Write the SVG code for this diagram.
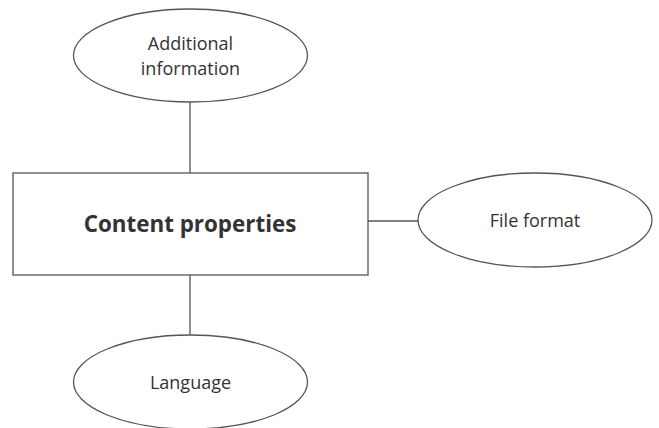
<svg xmlns="http://www.w3.org/2000/svg" width="659" height="428" viewBox="0 0 659 428">
  <style>
    .shape { fill: #ffffff; stroke: #555555; stroke-width: 1.3; }
    .link { stroke: #555555; stroke-width: 1.3; fill: none; }
    .label { font-family: "Open Sans", "Liberation Sans", sans-serif; fill: #333333; text-anchor: middle; }
    .small { font-size: 18px; }
    .big { font-size: 22.4px; font-weight: bold; }
  </style>
  <rect width="659" height="428" fill="#ffffff"/>
  <g id="connectors">
    <line class="link" x1="190" y1="102" x2="190" y2="173"/>
    <line class="link" x1="368" y1="221" x2="418" y2="221"/>
    <line class="link" x1="190" y1="275" x2="190" y2="335"/>
  </g>
  <g id="content-properties">
    <rect class="shape" x="13" y="173" width="355" height="102"/>
    <text class="label big" x="190" y="232">Content properties</text>
  </g>
  <g id="additional-information">
    <ellipse class="shape" cx="190.5" cy="55.5" rx="117" ry="46.5"/>
    <text class="label small" x="190.5" y="50">Additional</text>
    <text class="label small" x="190.5" y="75">information</text>
  </g>
  <g id="file-format">
    <ellipse class="shape" cx="535" cy="220" rx="117" ry="47"/>
    <text class="label small" x="535" y="227">File format</text>
  </g>
  <g id="language">
    <ellipse class="shape" cx="190.5" cy="382" rx="117" ry="47"/>
    <text class="label small" x="190.5" y="389">Language</text>
  </g>
</svg>
